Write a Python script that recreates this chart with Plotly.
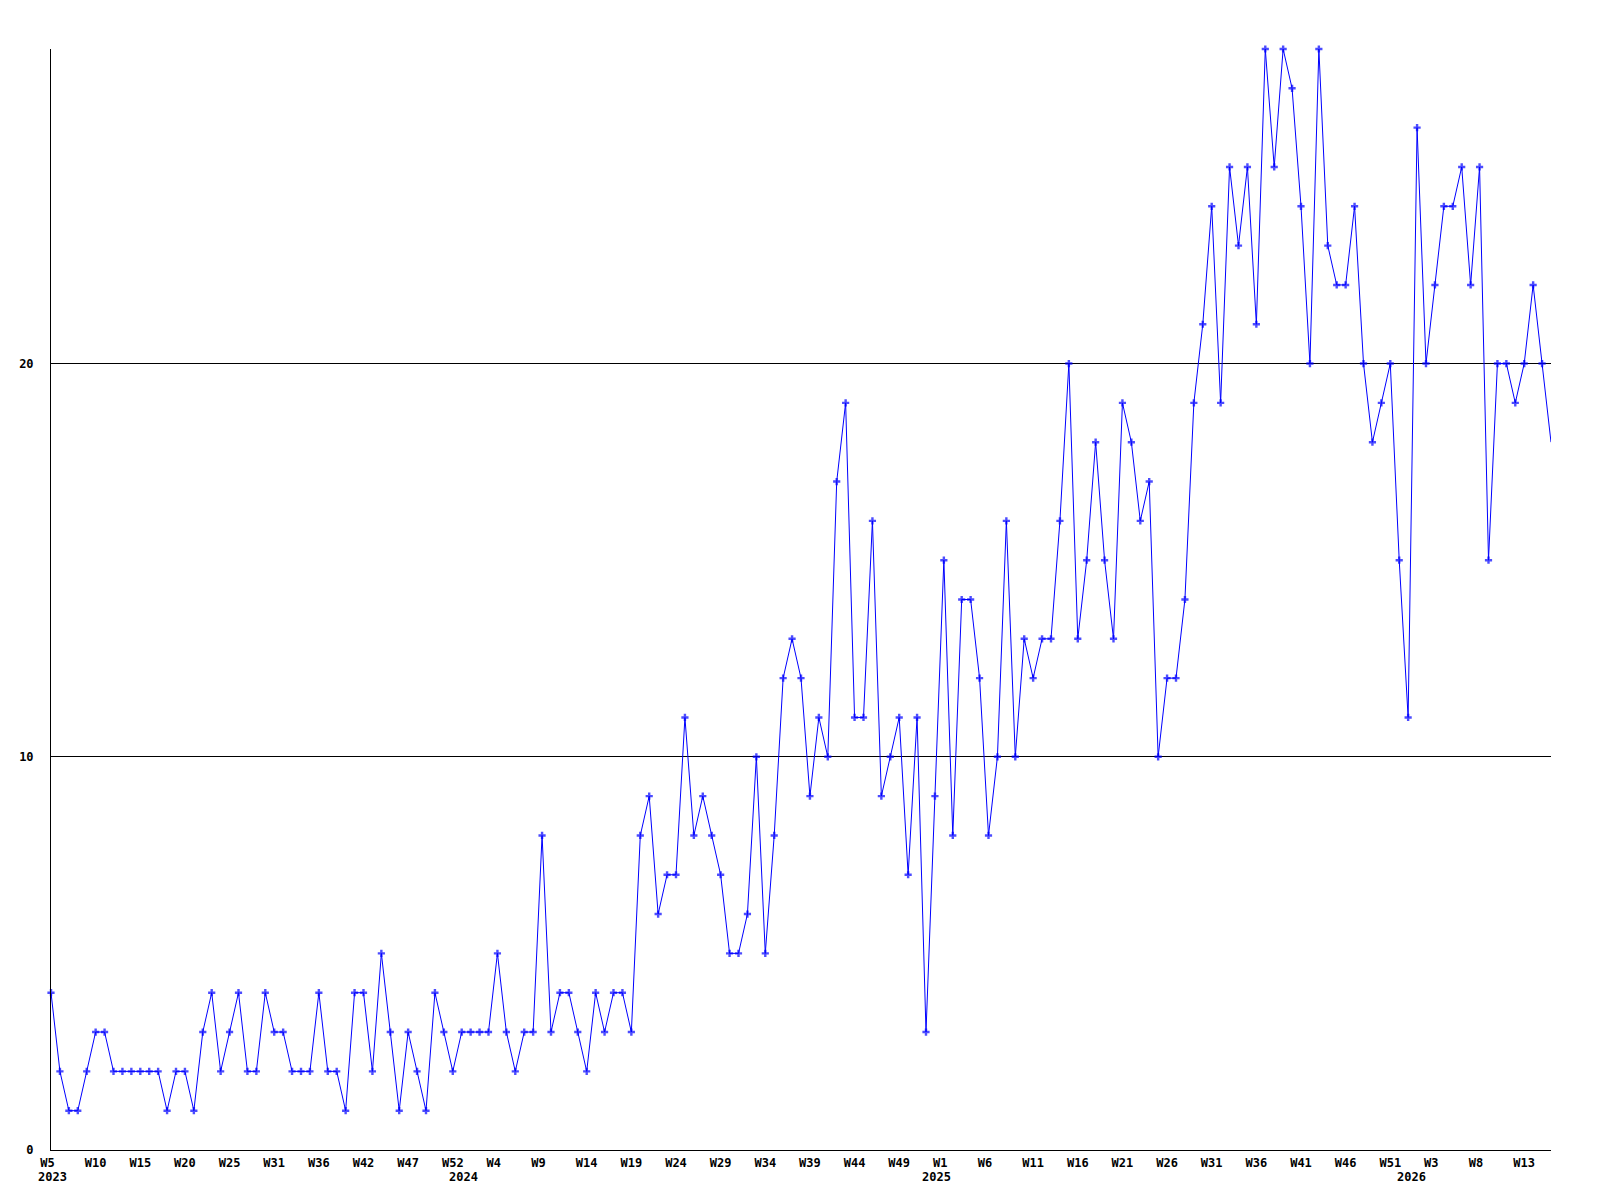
import plotly.graph_objects as go

# Weekly values, 2023 W5 .. 2026 (one per week)
values = [
    4, 2, 1, 1, 2, 3, 3, 2, 2, 2, 2, 2, 2, 1, 2, 2, 1, 3, 4, 2, 3, 4, 2, 2, 4, 3, 3, 2, 2, 2, 4, 2, 2, 1,
    4, 4, 2, 5, 3, 1, 3, 2, 1, 4, 3, 2, 3, 3, 3, 3, 5, 3, 2, 3, 3, 8, 3, 4, 4, 3, 2, 4, 3, 4, 4, 3, 8, 9,
    6, 7, 7, 11, 8, 9, 8, 7, 5, 5, 6, 10, 5, 8, 12, 13, 12, 9, 11, 10, 17, 19, 11, 11, 16, 9, 10, 11, 7, 11, 3,
    9, 15, 8, 14, 14, 12, 8, 10, 16, 10, 13, 12, 13, 13, 16, 20, 13, 15, 18, 15, 13, 19, 18, 16, 17, 10, 12, 12, 14, 19,
    21, 24, 19, 25, 23, 25, 21, 28, 25, 28, 27, 24, 20, 28, 23, 22, 22, 24, 20, 18, 19, 20,
    15, 11, 26, 20, 22, 24, 24, 25, 22, 25, 15, 20, 20, 19, 20, 22, 20, 18,
]

# Week tick labels (one every 5 points)
week_ticks = ["W5", "W10", "W15", "W20", "W25", "W31", "W36", "W42", "W47", "W52",
              "W4", "W9", "W14", "W19", "W24", "W29", "W34", "W39", "W44", "W49",
              "W1", "W6", "W11", "W16", "W21", "W26", "W31", "W36", "W41", "W46",
              "W51", "W3", "W8", "W13"]
tick_step = 5

# Year labels and the point index they sit under
year_labels = ["2023", "2024", "2025", "2026"]
year_index = [0.2, 46.2, 99.2, 152.4]

y_ticks = [0, 10, 20]

x = list(range(len(values)))
sizes = [6] * len(values)
sizes[-1] = 0

# labels in the original are left-anchored at a fixed offset: pad short ones
tick_text = [t if len(t) >= 3 else t + "\u00a0" for t in week_ticks]

FONT = dict(family="DejaVu Sans Mono, Liberation Mono, monospace", size=12, color="black", weight="bold")

fig = go.Figure()
fig.add_trace(go.Scatter(
    x=x, y=values, mode="lines+markers",
    line=dict(color="#0000ff", width=1),
    marker=dict(symbol="cross", size=sizes, color="#0000ff", line=dict(width=0)),
    cliponaxis=False,
    showlegend=False,
    hoverinfo="x+y",
))

for lab, xi in zip(year_labels, year_index):
    fig.add_annotation(x=xi, y=0, xref="x", yref="paper", text=lab, showarrow=False,
                       yshift=-27, xanchor="center", yanchor="middle", font=FONT)

fig.update_layout(
    width=1592, height=1192,
    margin=dict(l=43, r=49, t=41, b=50),
    paper_bgcolor="white", plot_bgcolor="white",
    font=FONT,
    xaxis=dict(
        range=[0, len(values) - 1],
        tickmode="array",
        tickvals=[i * tick_step for i in range(len(week_ticks))],
        ticktext=tick_text,
        showgrid=False, zeroline=False,
        showline=True, linecolor="black", linewidth=1,
        ticks="outside", ticklen=2, tickcolor="white",
        tickfont=FONT,
    ),
    yaxis=dict(
        range=[0, 28],
        tickmode="array", tickvals=y_ticks, ticktext=[str(v) for v in y_ticks],
        showgrid=True, gridcolor="black", gridwidth=1,
        zeroline=False,
        showline=True, linecolor="black", linewidth=1,
        ticks="outside", ticklen=14, tickcolor="white",
        tickfont=FONT,
    ),
)

fig.write_html("out.html")
